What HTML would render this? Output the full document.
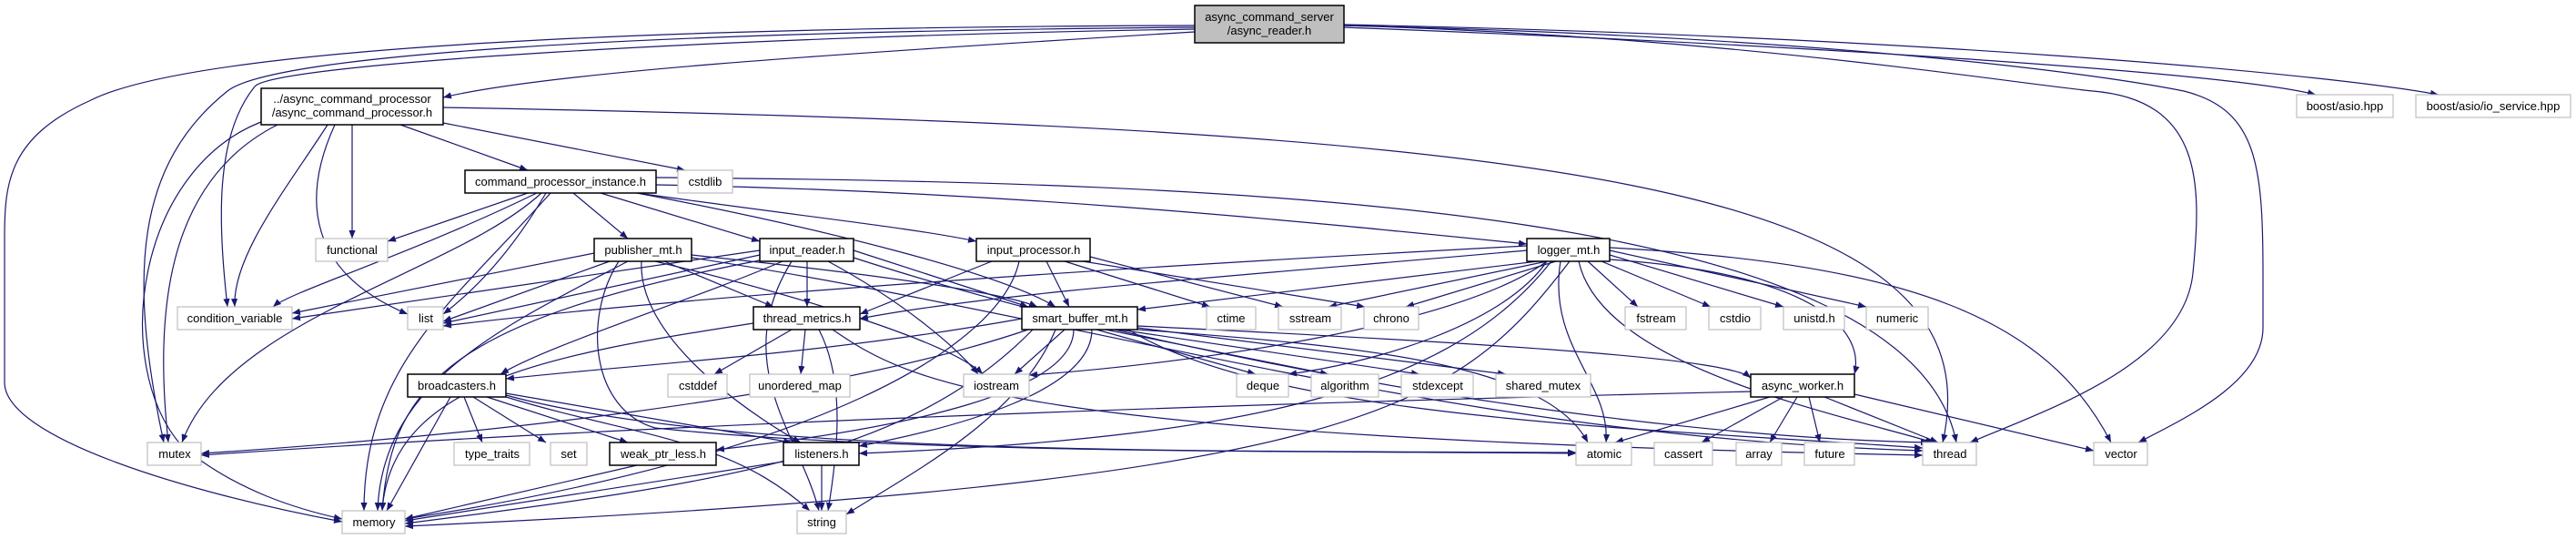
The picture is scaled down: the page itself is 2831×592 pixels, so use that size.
<!DOCTYPE html>
<html><head><meta charset="utf-8"><style>
html,body{margin:0;padding:0;background:#fff;}
svg{display:block;}
text{font-family:"Liberation Sans",sans-serif;font-size:13px;fill:#000;text-anchor:middle;}
.e{fill:none;stroke:#191970;stroke-width:1.2;marker-end:url(#a);}
.b{fill:#fff;stroke:#000;stroke-width:1.5;}
.g{fill:#fff;stroke:#bfbfbf;stroke-width:1.2;}
</style></head><body>
<svg width="2831" height="592" viewBox="0 0 2831 592" xmlns="http://www.w3.org/2000/svg">
<defs><marker id="a" viewBox="0 0 10 10" refX="10" refY="5" markerWidth="9" markerHeight="9" markerUnits="userSpaceOnUse" orient="auto"><path d="M0,1 L10,5 L0,9 z" fill="#191970"/></marker></defs>
<g>
<!-- top -->
<path class="e" d="M1313,35 C900,60 600,80 487,107"/>
<path class="e" d="M1313,28 C600,30 200,60 100,110 C10,150 5,200 5,260 L5,420 C5,480 200,540 376,573"/>
<path class="e" d="M1313,30 C700,35 300,60 250,100 C150,180 140,300 180,486"/>
<path class="e" d="M1313,32 C800,40 300,70 280,95 C235,150 240,250 250,337"/>
<path class="e" d="M1476,28 C1900,40 2200,90 2300,100 C2420,110 2420,200 2410,300 C2400,400 2250,450 2165,486"/>
<path class="e" d="M1476,28 C2000,40 2300,80 2400,100 C2480,120 2487,180 2487,300 L2487,360 C2487,420 2400,460 2350,486"/>
<path class="e" d="M1476,30 C2000,50 2450,80 2545,104"/>
<path class="e" d="M1476,27 C2100,40 2550,80 2680,104"/>
<!-- A -->
<path class="e" d="M440,137 L580,187"/>
<path class="e" d="M487,135 L753,187"/>
<path class="e" d="M387,137 L387,262"/>
<path class="e" d="M487,118 C1700,140 2200,200 2135,486"/>
<path class="e" d="M360,137 C320,200 255,280 258,337"/>
<path class="e" d="M368,137 C330,220 340,300 448,345"/>
<path class="e" d="M305,137 C180,200 170,350 185,486"/>
<path class="e" d="M295,131 C150,180 120,400 200,490 C260,540 330,560 376,570"/>
<!-- C -->
<path class="e" d="M580,212 L426,265"/>
<path class="e" d="M630,212 L690,262"/>
<path class="e" d="M660,212 L835,265"/>
<path class="e" d="M700,212 C900,240 1000,250 1073,265"/>
<path class="e" d="M721,203 C1100,210 1400,240 1678,268"/>
<path class="e" d="M700,212 C900,250 1100,300 1160,337"/>
<path class="e" d="M590,212 C450,280 320,320 300,337"/>
<path class="e" d="M600,212 C560,280 520,320 487,345"/>
<path class="e" d="M595,212 C500,300 250,350 200,486"/>
<path class="e" d="M605,212 C500,330 400,400 400,561"/>
<path class="e" d="M721,195 C1400,200 2100,230 2150,486"/>
<!-- publisher -->
<path class="e" d="M653,278 L321,344"/>
<path class="e" d="M670,287 L487,353"/>
<path class="e" d="M760,280 C950,300 1100,320 1140,337"/>
<path class="e" d="M730,287 L850,337"/>
<path class="e" d="M690,287 C550,360 420,420 415,561"/>
<path class="e" d="M720,287 C900,330 1050,380 1080,411"/>
<path class="e" d="M705,287 C700,380 850,470 880,486"/>
<path class="e" d="M680,287 C640,350 650,450 720,470 C1000,500 1500,495 1732,498"/>
<path class="e" d="M760,283 C1200,350 1600,480 2113,495"/>
<!-- input_reader -->
<path class="e" d="M835,280 L487,355"/>
<path class="e" d="M887,287 L887,337"/>
<path class="e" d="M938,275 L1130,337"/>
<path class="e" d="M910,287 C990,330 1050,380 1075,411"/>
<path class="e" d="M860,287 C760,330 600,380 550,411"/>
<path class="e" d="M870,287 C800,400 880,480 900,561"/>
<path class="e" d="M840,285 C500,350 430,420 420,561"/>
<path class="e" d="M938,283 C1300,400 1800,480 2120,486"/>
<path class="e" d="M835,275 L321,350"/>
<!-- input_processor -->
<path class="e" d="M1090,287 L945,345"/>
<path class="e" d="M1150,287 L1175,337"/>
<path class="e" d="M1120,287 C1100,380 900,500 445,570"/>
<path class="e" d="M1170,287 L1330,337"/>
<path class="e" d="M1198,282 L1410,337"/>
<path class="e" d="M1190,287 L1500,337"/>
<!-- logger -->
<path class="e" d="M1678,270 C1300,290 800,320 487,358"/>
<path class="e" d="M1678,275 C1400,300 1100,320 945,350"/>
<path class="e" d="M1690,287 L1250,340"/>
<path class="e" d="M1700,287 C1600,360 1300,400 1131,412"/>
<path class="e" d="M1700,287 L1460,337"/>
<path class="e" d="M1710,287 L1545,337"/>
<path class="e" d="M1745,287 L1800,337"/>
<path class="e" d="M1760,287 L1880,337"/>
<path class="e" d="M1769,280 L1960,337"/>
<path class="e" d="M1769,275 L2051,337"/>
<path class="e" d="M1725,287 C1600,450 1500,530 445,578"/>
<path class="e" d="M1735,287 C1760,400 2000,450 2125,486"/>
<path class="e" d="M1769,272 C2100,290 2250,350 2320,486"/>
<path class="e" d="M1715,287 C1700,380 1770,420 1765,486"/>
<path class="e" d="M1769,285 C1990,300 2050,360 2038,411"/>
<path class="e" d="M1705,287 C1600,420 1400,480 944,498"/>
<path class="e" d="M1700,287 C1650,360 1500,400 1416,411"/>
<!-- thread_metrics -->
<path class="e" d="M870,362 L785,411"/>
<path class="e" d="M885,362 L880,411"/>
<path class="e" d="M828,355 C600,390 430,420 420,561"/>
<path class="e" d="M900,362 C930,420 920,500 910,561"/>
<path class="e" d="M915,362 C1000,420 1100,480 2113,500"/>
<!-- smart_buffer -->
<path class="e" d="M1123,350 C900,390 700,400 556,416"/>
<path class="e" d="M1170,362 L1115,411"/>
<path class="e" d="M1205,362 L1380,411"/>
<path class="e" d="M1215,362 L1460,411"/>
<path class="e" d="M1230,362 L1560,411"/>
<path class="e" d="M1250,360 L1655,411"/>
<path class="e" d="M1250,358 C1700,380 1900,395 1924,415"/>
<path class="e" d="M1180,362 C1180,430 1000,470 787,494"/>
<path class="e" d="M1200,362 C1200,430 1050,470 944,490"/>
<path class="e" d="M1130,362 C900,440 500,480 221,498"/>
<path class="e" d="M1250,362 C1500,380 1700,400 1745,486"/>
<path class="e" d="M1240,362 C1400,460 1800,470 2113,492"/>
<path class="e" d="M1135,362 C1000,500 800,530 445,575"/>
<path class="e" d="M1160,362 C1120,460 1000,520 930,565"/>
<!-- broadcasters -->
<path class="e" d="M495,436 L425,561"/>
<path class="e" d="M510,436 L530,486"/>
<path class="e" d="M520,436 L600,486"/>
<path class="e" d="M535,436 L690,486"/>
<path class="e" d="M556,432 L870,486"/>
<path class="e" d="M556,436 C700,480 800,480 890,561"/>
<path class="e" d="M556,434 C800,500 1300,495 1732,497"/>
<!-- listeners / weak -->
<path class="e" d="M861,507 L445,572"/>
<path class="e" d="M903,511 L903,561"/>
<path class="e" d="M700,511 L445,570"/>
<!-- async_worker -->
<path class="e" d="M1924,430 C1500,440 800,460 221,500"/>
<path class="e" d="M1945,436 L1775,486"/>
<path class="e" d="M1960,436 L1870,486"/>
<path class="e" d="M1975,436 L1945,486"/>
<path class="e" d="M1988,436 L2000,486"/>
<path class="e" d="M2005,436 L2130,486"/>
<path class="e" d="M2038,433 L2301,495"/>
</g>
<g>
<rect x="1313" y="6" width="164" height="41" fill="#bfbfbf" stroke="#000" stroke-width="1.5"/>
<text x="1395" y="23">async_command_server</text><text x="1395" y="38">/async_reader.h</text>
<rect class="b" x="287" y="97" width="200" height="40"/>
<text x="387" y="113">../async_command_processor</text><text x="387" y="128">/async_command_processor.h</text>
<rect class="b" x="511" y="187" width="210" height="25"/><text x="616" y="204">command_processor_instance.h</text>
<rect class="g" x="745" y="187" width="60" height="25"/><text x="775" y="204">cstdlib</text>
<rect class="g" x="347" y="262" width="79" height="25"/><text x="387" y="279">functional</text>
<rect class="b" x="653" y="262" width="107" height="25"/><text x="707" y="279">publisher_mt.h</text>
<rect class="b" x="835" y="262" width="103" height="25"/><text x="887" y="279">input_reader.h</text>
<rect class="b" x="1073" y="262" width="125" height="25"/><text x="1136" y="279">input_processor.h</text>
<rect class="b" x="1678" y="262" width="91" height="25"/><text x="1724" y="279">logger_mt.h</text>
<rect class="g" x="2524" y="104" width="106" height="25"/><text x="2577" y="121">boost/asio.hpp</text>
<rect class="g" x="2655" y="104" width="170" height="25"/><text x="2740" y="121">boost/asio/io_service.hpp</text>
<rect class="g" x="195" y="337" width="126" height="25"/><text x="258" y="354">condition_variable</text>
<rect class="g" x="448" y="337" width="39" height="25"/><text x="468" y="354">list</text>
<rect class="b" x="828" y="337" width="117" height="25"/><text x="887" y="354">thread_metrics.h</text>
<rect class="b" x="1123" y="337" width="127" height="25"/><text x="1187" y="354">smart_buffer_mt.h</text>
<rect class="g" x="1326" y="337" width="54" height="25"/><text x="1353" y="354">ctime</text>
<rect class="g" x="1405" y="337" width="69" height="25"/><text x="1440" y="354">sstream</text>
<rect class="g" x="1499" y="337" width="60" height="25"/><text x="1529" y="354">chrono</text>
<rect class="g" x="1786" y="337" width="67" height="25"/><text x="1820" y="354">fstream</text>
<rect class="g" x="1878" y="337" width="57" height="25"/><text x="1907" y="354">cstdio</text>
<rect class="g" x="1960" y="337" width="67" height="25"/><text x="1994" y="354">unistd.h</text>
<rect class="g" x="2051" y="337" width="68" height="25"/><text x="2085" y="354">numeric</text>
<rect class="b" x="448" y="411" width="108" height="25"/><text x="502" y="428">broadcasters.h</text>
<rect class="g" x="734" y="411" width="65" height="25"/><text x="767" y="428">cstddef</text>
<rect class="g" x="824" y="411" width="110" height="25"/><text x="879" y="428">unordered_map</text>
<rect class="g" x="1059" y="411" width="72" height="25"/><text x="1095" y="428">iostream</text>
<rect class="g" x="1359" y="411" width="57" height="25"/><text x="1388" y="428">deque</text>
<rect class="g" x="1441" y="411" width="74" height="25"/><text x="1478" y="428">algorithm</text>
<rect class="g" x="1540" y="411" width="79" height="25"/><text x="1580" y="428">stdexcept</text>
<rect class="g" x="1644" y="411" width="104" height="25"/><text x="1696" y="428">shared_mutex</text>
<rect class="b" x="1924" y="411" width="114" height="25"/><text x="1981" y="428">async_worker.h</text>
<rect class="g" x="162" y="486" width="59" height="25"/><text x="192" y="503">mutex</text>
<rect class="g" x="499" y="486" width="83" height="25"/><text x="541" y="503">type_traits</text>
<rect class="g" x="605" y="486" width="40" height="25"/><text x="625" y="503">set</text>
<rect class="b" x="670" y="486" width="117" height="25"/><text x="729" y="503">weak_ptr_less.h</text>
<rect class="b" x="861" y="486" width="83" height="25"/><text x="903" y="503">listeners.h</text>
<rect class="g" x="1732" y="486" width="61" height="25"/><text x="1763" y="503">atomic</text>
<rect class="g" x="1818" y="486" width="64" height="25"/><text x="1850" y="503">cassert</text>
<rect class="g" x="1908" y="486" width="50" height="25"/><text x="1933" y="503">array</text>
<rect class="g" x="1983" y="486" width="55" height="25"/><text x="2011" y="503">future</text>
<rect class="g" x="2113" y="486" width="59" height="25"/><text x="2143" y="503">thread</text>
<rect class="g" x="2301" y="486" width="59" height="25"/><text x="2331" y="503">vector</text>
<rect class="g" x="376" y="561" width="69" height="25"/><text x="411" y="578">memory</text>
<rect class="g" x="876" y="561" width="54" height="25"/><text x="903" y="578">string</text>
</g>
</svg>
</body></html>
